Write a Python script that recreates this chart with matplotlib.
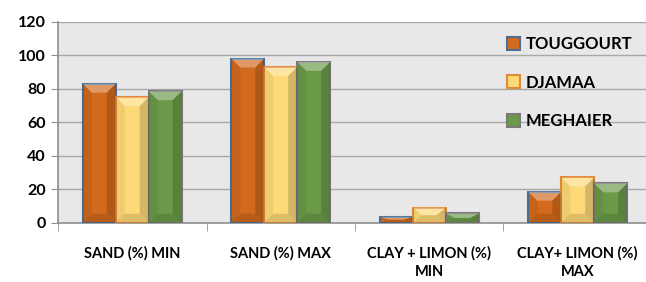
import matplotlib.pyplot as plt
import numpy as np
from matplotlib.patches import Polygon

# Valeurs.
CATEGORIES = ["SAND (%) MIN", "SAND (%) MAX", "CLAY + LIMON (%)\nMIN", "CLAY+ LIMON (%)\nMAX"]
SERIES = ["TOUGGOURT", "DJAMAA", "MEGHAIER"]
TOUGGOURT = [83, 98, 3.5, 18.5]
DJAMAA = [75, 93, 9, 27]
MEGHAIER = [78.5, 96, 5.5, 23.5]

FACE_COLORS = ["#d2691c", "#fdd978", "#6a9a48"]
EDGE_COLORS = ["#4f6e92", "#e3893a", "#7a7a7a"]

plt.rcParams["font.family"] = ["Lato", "DejaVu Sans"]
plt.rcParams["font.weight"] = "bold"


def add_bevel(ax, bar, depth_px=9):
    """Dodaje jednostavne facete da stubic izgleda reljefno."""
    x0 = bar.get_x()
    x1 = x0 + bar.get_width()
    y1 = bar.get_height()
    # pretvaranje piksela u jedinice podataka
    to_px = ax.transData.transform
    px_x = (to_px((1, 0))[0] - to_px((0, 0))[0])
    px_y = (to_px((0, 1))[1] - to_px((0, 0))[1])
    dx = min(depth_px / px_x, bar.get_width() / 2)
    dy = min(depth_px / px_y, y1 / 2)
    facets = [
        ([(x0, y1), (x1, y1), (x1 - dx, y1 - dy), (x0 + dx, y1 - dy)], "white", 0.32),
        ([(x0, 0), (x1, 0), (x1 - dx, dy), (x0 + dx, dy)], "black", 0.12),
        ([(x0, 0), (x0, y1), (x0 + dx, y1 - dy), (x0 + dx, dy)], "black", 0.06),
        ([(x1, 0), (x1, y1), (x1 - dx, y1 - dy), (x1 - dx, dy)], "black", 0.16),
    ]
    for points, color, alpha in facets:
        ax.add_patch(
            Polygon(points, closed=True, facecolor=color, alpha=alpha,
                    edgecolor="none", zorder=3.5)
        )


def main():
    fig = plt.figure(figsize=(6.46, 2.82), dpi=100)
    ax = fig.add_axes([58 / 646, 59.3 / 282, 594 / 646, 201 / 282])
    ax.set_facecolor("#e8e8e8")

    x = np.arange(len(CATEGORIES))
    bar_width = 0.222
    values = [TOUGGOURT, DJAMAA, MEGHAIER]

    ax.set_xlim(-0.5, len(CATEGORIES) - 0.5)
    ax.set_ylim(0, 120)

    for index, (name, vals) in enumerate(zip(SERIES, values)):
        offset = (index - 1) * bar_width
        bars = ax.bar(
            x + offset,
            vals,
            width=bar_width,
            color=FACE_COLORS[index],
            edgecolor=EDGE_COLORS[index],
            linewidth=1.5,
            label=name,
            zorder=3,
        )
        for bar in bars:
            add_bevel(ax, bar)

    ax.set_yticks(range(0, 121, 20))
    ax.grid(axis="y", color="#a8a8a8", linewidth=1.0, zorder=0)

    ax.set_xticks(x)
    ax.set_xticklabels(CATEGORIES, fontsize=10.5, fontweight="bold", linespacing=1.35)
    ax.tick_params(axis="x", length=0, pad=17)
    ax.set_xticks(np.arange(-0.5, len(CATEGORIES), 1.0), minor=True)
    ax.tick_params(axis="x", which="minor", length=6, color="#909090")
    ax.tick_params(axis="y", length=5, color="#909090", labelsize=11.5, pad=4)
    for label in ax.get_yticklabels():
        label.set_fontweight("bold")

    for side in ["top", "right"]:
        ax.spines[side].set_visible(False)
    for side in ["left", "bottom"]:
        ax.spines[side].set_color("#909090")
        ax.spines[side].set_linewidth(1.2)

    ax.legend(
        loc="upper left",
        bbox_to_anchor=(492 / 646, 1 - 21 / 282),
        bbox_transform=fig.transFigure,
        frameon=False,
        handlelength=0.8,
        handleheight=0.8,
        handletextpad=0.3,
        labelspacing=1.35,
        prop={"weight": "bold", "size": 12},
    )

    fig.savefig("out.png", dpi=100)
    plt.close(fig)


if __name__ == "__main__":
    main()
